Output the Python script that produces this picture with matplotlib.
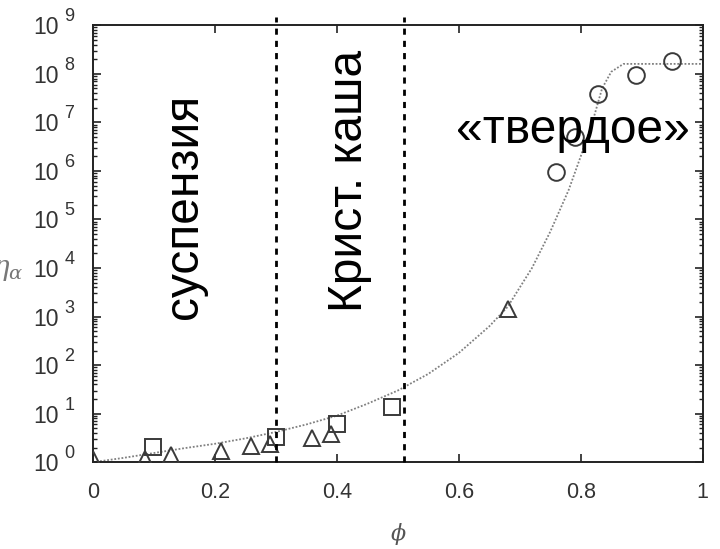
import matplotlib
matplotlib.use('Agg')
import matplotlib.pyplot as plt
import matplotlib.transforms as mtransforms
from matplotlib.ticker import FixedLocator, LogLocator, NullFormatter

plt.rcParams['font.family'] = ['Liberation Sans', 'DejaVu Sans']
plt.rcParams['mathtext.fontset'] = 'dejavuserif'

# measured points (phi, viscosity)
tri_phi = [0.0, 0.085, 0.128, 0.21, 0.26, 0.29, 0.36, 0.39, 0.68]
tri_eta = [1.15, 1.15, 1.4, 1.7, 2.2, 2.4, 3.2, 3.9, 1440]

sq_phi = [0.099, 0.30, 0.40, 0.49]
sq_eta = [2.1, 3.3, 6.1, 14]

circ_phi = [0.76, 0.79, 0.828, 0.89, 0.949]
circ_eta = [9.5e5, 4.9e6, 3.9e7, 9.5e7, 1.8e8]

# fitted curve
fit_phi = [0.0, 0.05, 0.10, 0.15, 0.20, 0.25, 0.30, 0.35, 0.40, 0.45, 0.50,
           0.55, 0.60, 0.65, 0.68, 0.72, 0.75, 0.78, 0.80, 0.82, 0.835,
           0.85, 0.87, 1.0]
fit_eta = [1.0, 1.23, 1.55, 1.95, 2.4, 3.1, 4.2, 6.0, 9.1, 16, 30,
           66, 178, 630, 1580, 1.0e4, 5.6e4, 4.0e5, 2.0e6, 1.1e7, 5.0e7,
           1.1e8, 1.6e8, 1.6e8]

# region boundaries and labels
bounds = [0.30, 0.51]
region_labels = ['суспензия', 'Крист. каша', '«твердое»']

x_ticks = [0, 0.2, 0.4, 0.6, 0.8, 1]
x_ticklabels = ['0', '0.2', '0.4', '0.6', '0.8', '1']
y_exps = list(range(0, 10))

grey = '#333333'
fig = plt.figure(figsize=(7.2, 5.49), dpi=100)
ax = fig.add_axes([0.129, 0.158, 0.847, 0.796])
ax.set_yscale('log')

# fit line
ax.plot(fit_phi, fit_eta, color='#808080', lw=1.3, dashes=(1, 1), zorder=2)

# markers
mk = dict(linestyle='none', markerfacecolor='none', markeredgecolor='#3a3a3a',
          markeredgewidth=1.4, zorder=3)
ax.plot(tri_phi, tri_eta, marker='^', markersize=12, **mk)
ax.plot(sq_phi, sq_eta, marker='s', markersize=12, **mk)
ax.plot(circ_phi, circ_eta, marker='o', markersize=12, **mk)

# boundaries (they run slightly past the top frame)
for b in bounds:
    ax.plot([b, b], [1, 10 ** 9.18], color='black', lw=2, dashes=(2.2, 2.2),
            clip_on=False, zorder=4)

ax.text(0.15, 10 ** 5.27, region_labels[0], rotation=90, fontsize=34.5,
        ha='center', va='center')
ax.text(0.42, 10 ** 5.8, region_labels[1], rotation=90, fontsize=34.5,
        ha='center', va='center')
ax.text(0.787, 10 ** 6.58, region_labels[2], fontsize=34.5,
        ha='center', va='baseline', zorder=5)

ax.set_xlim(0, 1)
ax.set_ylim(1, 1e9)

# axis style
for s in ax.spines.values():
    s.set_color('#222222')
    s.set_linewidth(1.4)

ax.xaxis.set_major_locator(FixedLocator(x_ticks))
ax.set_xticklabels(x_ticklabels)
ax.yaxis.set_major_locator(FixedLocator([10.0 ** e for e in y_exps]))
ax.yaxis.set_minor_locator(LogLocator(base=10, subs=range(2, 10), numticks=20))
ax.yaxis.set_minor_formatter(NullFormatter())
ax.set_yticklabels(['10'] * len(y_exps))

ax.tick_params(which='both', direction='in', top=True, right=True, color='#222222')
ax.tick_params(which='major', length=5.5, width=1.2)
ax.tick_params(which='minor', length=3, width=1.0)
ax.tick_params(axis='x', labelsize=15.5, labelcolor=grey, pad=14)
ax.tick_params(axis='y', labelsize=16.5, labelcolor=grey, pad=24.5)

# exponents next to the "10" labels
trans = mtransforms.blended_transform_factory(ax.transAxes, ax.transData)
for e in y_exps:
    ax.text(-0.047, 10.0 ** e, str(e), transform=trans, fontsize=13,
            color=grey, ha='left', va='bottom', clip_on=False)

# axis titles (the y title is cut by the left edge, as in the source)
fig.text(398 / 720, 1 - 534 / 549, r'$\phi$', fontsize=16, color='#555555',
         ha='center', va='center')
fig.text(-0.011, 1 - 270 / 549, r'$\eta_\alpha$', fontsize=20, color='#777777',
         ha='left', va='center')

fig.savefig('out.png', dpi=100)
